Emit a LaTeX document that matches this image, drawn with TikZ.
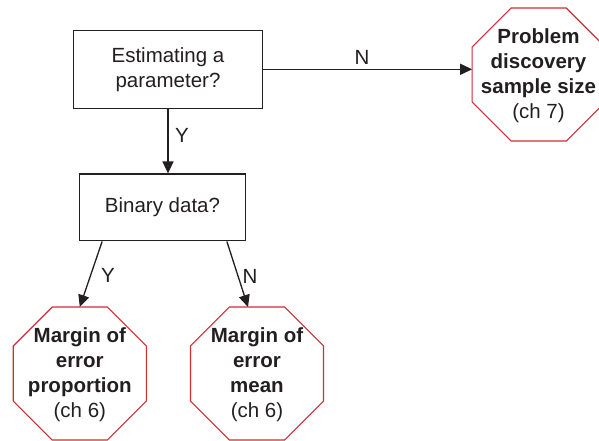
\documentclass[tikz,border=0pt]{standalone}
\usepackage{fontspec}
\setmainfont{Liberation Sans}
\usetikzlibrary{shapes.geometric,arrows.meta}
\definecolor{ink}{RGB}{35,31,32}
\definecolor{stopred}{RGB}{208,45,50}
\tikzset{
  qbox/.style={draw=ink,line width=1.3pt,text=ink,align=center,inner sep=0pt,
    font=\fontsize{20.5}{25}\selectfont},
  oct/.style={draw=stopred,line width=1.1pt,regular polygon,regular polygon sides=8,
    minimum size=144pt,inner sep=0pt,outer sep=0pt},
  octtext/.style={text=ink,align=center,inner sep=0pt,
    font=\fontsize{20.5}{25}\selectfont\bfseries},
  conn/.style={draw=ink,line width=1.3pt,-{Triangle[length=12pt,width=11pt]}},
  lab/.style={text=ink,inner sep=0pt,font=\fontsize{20.5}{25}\selectfont}
}
\begin{document}
\begin{tikzpicture}[x=1pt,y=-1pt]
\useasboundingbox (0,0) rectangle (599,440);
\clip (0,0) rectangle (599,440);
\node[qbox,minimum width=188.6pt,minimum height=78pt] (est) at (168,69.3) {Estimating a\\parameter?};
\node[qbox,minimum width=166.4pt,minimum height=66.7pt] (bin) at (162.5,207.4) {Binary data?};
\node[oct] (pd) at (538.7,74.5) {};
\node[oct] (mp) at (79.8,373.5) {};
\node[oct] (mm) at (257,373.5) {};
\node[octtext] (pdt) at (538.5,76) {Problem\\discovery\\sample size\\{\mdseries (ch 7)}};
\node[octtext] (mpt) at (79.8,375) {Margin of\\error\\proportion\\{\mdseries (ch 6)}};
\node[octtext] (mmt) at (257,375) {Margin of\\error\\mean\\{\mdseries (ch 6)}};
\coordinate (bl) at ([xshift=23.5pt]bin.south west);
\coordinate (br) at ([xshift=-19.5pt]bin.south east);
\coordinate (mmin) at ([xshift=-9pt]mm.north);
\draw[conn] (est.south) -- (est.south |- bin.north);
\draw[conn] (est.east) -- (est.east -| pd.west);
\draw[conn] (bl) -- (mp.north);
\draw[conn] (br) -- (mmin);
\node[lab] (ly1) at (182,135.5) {Y};
\node[lab] (ln1) at (362,57) {N};
\node[lab] (ly2) at (108,275) {Y};
\node[lab] (ln2) at (250,276) {N};
\end{tikzpicture}
\end{document}
